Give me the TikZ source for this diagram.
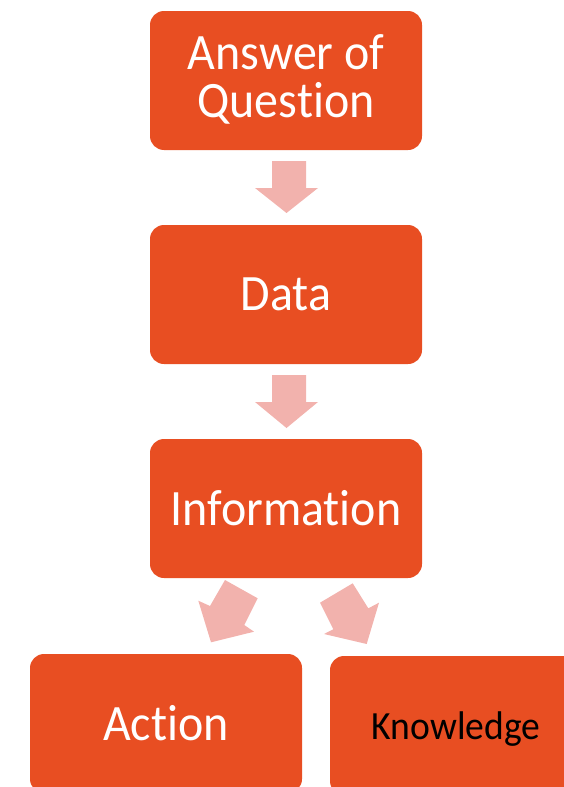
\documentclass[tikz,border=0pt]{standalone}
\usepackage{fontspec}
\setmainfont[RawFeature=-liga,FakeStretch=0.94]{Carlito}
\definecolor{boxorange}{HTML}{E84E22}
\definecolor{arrowpink}{HTML}{F2B2AD}
\begin{document}
\begin{tikzpicture}[x=1pt,y=-1pt,
  box/.style={fill=boxorange,rounded corners=14pt},
  lbl/.style={text=white,font=\fontsize{51}{48}\selectfont,align=center,inner sep=0pt},
  blockarrow/.style={fill=arrowpink,draw=none}]
\useasboundingbox (0,0) rectangle (564,787);
\clip (0,0) rectangle (564,787);
% boxes
\path[box] (150,11) rectangle (422,150);
\path[box] (150,225) rectangle (422,364);
\path[box] (150,439) rectangle (422,578);
\path[box] (30,654) rectangle (302,793);
\path[box] (330,656) rectangle (602,795);
% labels
\node[lbl] (q) at (286,79) {Answer of\\Question};
\node[lbl] (d) at (286,294) {Data};
\node[lbl] (i) at (286,508) {Information};
\node[lbl] (a) at (166,723) {Action};
\node[lbl,text=black,font=\fontsize{40}{40}\selectfont] (k) at (456,729) {Knowledge};
% block arrows
\path[blockarrow] (272,161) -- (306,161) -- (306,188) -- (318,188) -- (286.5,213) -- (255,188) -- (272,188) -- cycle;
\path[blockarrow] (272,375) -- (306,375) -- (306,402) -- (318,402) -- (286.5,428) -- (255,402) -- (272,402) -- cycle;
\path[blockarrow] (225,580) -- (257.7,598.3) -- (244.3,625) -- (254,631.7) -- (211,642.3) -- (198.3,600.7) -- (210,606) -- cycle;
\path[blockarrow] (352.7,583.3) -- (320,602.7) -- (333.3,629.3) -- (324,634) -- (366.7,644) -- (379,602.7) -- (368.3,608.3) -- cycle;
\end{tikzpicture}
\end{document}
